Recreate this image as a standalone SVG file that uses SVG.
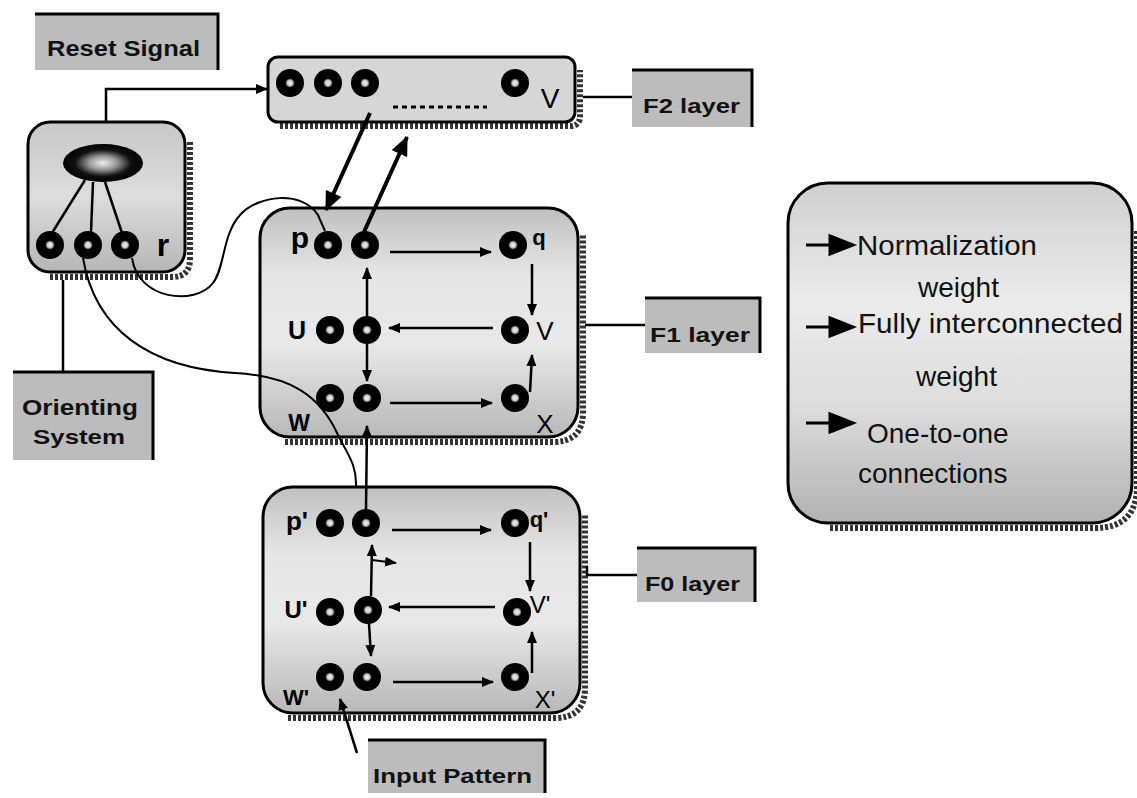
<svg xmlns="http://www.w3.org/2000/svg" xmlns:xlink="http://www.w3.org/1999/xlink" width="1137" height="798" viewBox="0 0 1137 798">
<style>
.lbl{fill:#bcbcbc;}
.lblEdge{fill:none;stroke:#000;stroke-width:3;}
.lt{font-family:"Liberation Sans",Arial,sans-serif;font-weight:bold;fill:#111;}
.box{stroke:#000;stroke-width:3;}
.shadow{fill:none;stroke:#333;stroke-width:6;stroke-dasharray:3 2;}
.con{fill:none;stroke:#000;stroke-width:2.5;}
.thin{fill:none;stroke:#000;stroke-width:2;}
.thick{fill:none;stroke:#000;stroke-width:4;}
.nl{font-family:"Liberation Sans",Arial,sans-serif;fill:#000;text-anchor:middle;}
.b{font-weight:bold;}
.leg{font-family:"Liberation Sans",Arial,sans-serif;font-size:28px;fill:#111;}
.legArrow{fill:#000;stroke:#000;stroke-width:3;}
</style>
<defs>
<marker id="ah" viewBox="0 0 12 10" refX="11" refY="5" markerWidth="12" markerHeight="10" markerUnits="userSpaceOnUse" orient="auto"><path d="M0,0 L12,5 L0,10 z" fill="#000"/></marker>
<marker id="ahL" viewBox="0 0 16 14" refX="15" refY="7" markerWidth="20" markerHeight="17" markerUnits="userSpaceOnUse" orient="auto"><path d="M0,0 L16,7 L0,14 z" fill="#000"/></marker>
<radialGradient id="dot" cx="0.5" cy="0.5" r="0.5"><stop offset="0" stop-color="#f4f4f4"/><stop offset="0.2" stop-color="#c8c8c8"/><stop offset="0.34" stop-color="#000"/><stop offset="1" stop-color="#000"/></radialGradient>
<radialGradient id="ell" cx="0.5" cy="0.5" r="0.5"><stop offset="0" stop-color="#eee"/><stop offset="0.35" stop-color="#999"/><stop offset="0.7" stop-color="#111"/><stop offset="1" stop-color="#000"/></radialGradient>
<linearGradient id="gF" x1="0" y1="0" x2="0" y2="1"><stop offset="0" stop-color="#c0c0c0"/><stop offset="0.3" stop-color="#e6e6e6"/><stop offset="0.6" stop-color="#e8e8e8"/><stop offset="1" stop-color="#b8b8b8"/></linearGradient>
<linearGradient id="gL" x1="0" y1="0" x2="0" y2="1"><stop offset="0" stop-color="#cfcfcf"/><stop offset="0.35" stop-color="#ebebeb"/><stop offset="0.65" stop-color="#dddddd"/><stop offset="1" stop-color="#b2b2b2"/></linearGradient>
<linearGradient id="gO" x1="0" y1="0" x2="0" y2="1"><stop offset="0" stop-color="#c8c8c8"/><stop offset="0.5" stop-color="#dcdcdc"/><stop offset="1" stop-color="#b6b6b6"/></linearGradient>
<circle id="nd" r="14" fill="url(#dot)"/>
<path id="legA" class="legArrow" d="M0,0 H24 M24,-9 L47,0 L24,9 Z"/>
</defs>
<rect width="1137" height="798" fill="#fff"/>

<!-- Reset Signal label -->
<g id="reset-signal">
<rect class="lbl" x="35" y="14" width="183" height="56"/>
<path class="lblEdge" d="M35,14 H218 V70"/>
<text class="lt" x="47" y="56" font-size="22" textLength="153" lengthAdjust="spacingAndGlyphs">Reset Signal</text>
</g>

<!-- Orienting subsystem box -->
<g id="orienting">
<path class="shadow" d="M50,277 H172 Q190,277 190,259 V140"/>
<rect class="box" x="28" y="122" width="157" height="150" rx="22" fill="url(#gO)"/>
<line class="con" x1="85" y1="180" x2="52" y2="233"/>
<line class="con" x1="93" y1="182" x2="91" y2="232"/>
<line class="con" x1="105" y1="182" x2="122" y2="233"/>
<ellipse cx="103" cy="163" rx="40" ry="19" fill="url(#ell)"/>
<use href="#nd" x="50" y="245"/>
<use href="#nd" x="88" y="245"/>
<use href="#nd" x="125" y="245"/>
<text class="nl b" x="163" y="256" font-size="32">r</text>
</g>

<!-- Orienting System label -->
<g id="orienting-system">
<rect class="lbl" x="13" y="372" width="140" height="88"/>
<path class="lblEdge" d="M13,372 H153 V460"/>
<text class="lt" x="22" y="415" font-size="22" textLength="116" lengthAdjust="spacingAndGlyphs">Orienting</text>
<text class="lt" x="33" y="444" font-size="21" textLength="92" lengthAdjust="spacingAndGlyphs">System</text>
</g>

<!-- F2 layer -->
<g id="f2">
<path class="shadow" d="M280,126 H570 Q580,126 580,116 V70"/>
<rect class="box" x="268" y="57" width="307" height="65" rx="10" fill="#d6d6d6"/>
<use href="#nd" x="290" y="83"/>
<use href="#nd" x="328" y="83"/>
<use href="#nd" x="365" y="83"/>
<use href="#nd" x="515" y="83"/>
<line x1="393" y1="107" x2="487" y2="107" stroke="#000" stroke-width="3" stroke-dasharray="5 4"/>
<text class="nl" x="550" y="108" font-size="28">V</text>
</g>
<g id="f2-label">
<rect class="lbl" x="632" y="70" width="120" height="57"/>
<path class="lblEdge" d="M632,70 H752 V127"/>
<text class="lt" x="643" y="113" font-size="21" textLength="97" lengthAdjust="spacingAndGlyphs">F2 layer</text>
</g>

<!-- F1 layer -->
<g id="f1">
<path class="shadow" d="M285,442 H553 Q583,442 583,412 V235"/>
<rect class="box" x="260" y="208" width="318" height="229" rx="30" fill="url(#gF)"/>
<use href="#nd" x="328" y="245"/>
<use href="#nd" x="365" y="245"/>
<use href="#nd" x="513" y="245"/>
<use href="#nd" x="330" y="330"/>
<use href="#nd" x="367" y="330"/>
<use href="#nd" x="515" y="330"/>
<use href="#nd" x="330" y="398"/>
<use href="#nd" x="367" y="398"/>
<use href="#nd" x="515" y="398"/>
<text class="nl b" x="300" y="248" font-size="30">p</text>
<text class="nl b" x="539" y="245" font-size="22">q</text>
<text class="nl b" x="297" y="339" font-size="25">U</text>
<text class="nl" x="545" y="340" font-size="26">V</text>
<text class="nl b" x="299" y="431" font-size="23">W</text>
<text class="nl" x="545" y="433" font-size="26">X</text>
</g>
<g id="f1-label">
<rect class="lbl" x="645" y="298" width="115" height="55"/>
<path class="lblEdge" d="M645,298 H760 V353"/>
<text class="lt" x="650" y="342" font-size="20" textLength="100" lengthAdjust="spacingAndGlyphs">F1 layer</text>
</g>

<!-- F0 layer -->
<g id="f0">
<path class="shadow" d="M288,718 H555 Q585,718 585,688 V515"/>
<rect class="box" x="263" y="487" width="317" height="226" rx="30" fill="url(#gF)"/>
<use href="#nd" x="330" y="523"/>
<use href="#nd" x="366" y="523"/>
<use href="#nd" x="515" y="523"/>
<use href="#nd" x="330" y="612"/>
<use href="#nd" x="368" y="610"/>
<use href="#nd" x="517" y="612"/>
<use href="#nd" x="330" y="677"/>
<use href="#nd" x="367" y="677"/>
<use href="#nd" x="515" y="677"/>
<text class="nl b" x="297" y="530" font-size="26">p'</text>
<text class="nl b" x="539" y="527" font-size="22">q'</text>
<text class="nl b" x="296" y="618" font-size="24">U'</text>
<text class="nl" x="540" y="613" font-size="24">V'</text>
<text class="nl b" x="296" y="705" font-size="22">W'</text>
<text class="nl" x="545" y="708" font-size="24">X'</text>
</g>
<g id="f0-label">
<rect class="lbl" x="637" y="548" width="118" height="54"/>
<path class="lblEdge" d="M637,548 H755 V602"/>
<text class="lt" x="645" y="591" font-size="20" textLength="95" lengthAdjust="spacingAndGlyphs">F0 layer</text>
</g>

<!-- Input Pattern label -->
<g id="input-pattern">
<rect class="lbl" x="368" y="740" width="177" height="53"/>
<path class="lblEdge" d="M368,740 H545 V793"/>
<text class="lt" x="373" y="783" font-size="21" textLength="159" lengthAdjust="spacingAndGlyphs">Input Pattern</text>
</g>

<!-- Legend -->
<g id="legend">
<path class="shadow" d="M830,528 H1095 Q1137,528 1137,486 V230"/>
<rect class="box" x="788" y="183" width="344" height="340" rx="40" fill="url(#gL)"/>
<use href="#legA" x="806" y="245"/>
<use href="#legA" x="806" y="327"/>
<use href="#legA" x="806" y="423"/>
<text class="leg" x="857" y="255" textLength="180" lengthAdjust="spacingAndGlyphs">Normalization</text>
<text class="leg" x="918" y="297">weight</text>
<text class="leg" x="858" y="333" textLength="265" lengthAdjust="spacingAndGlyphs">Fully interconnected</text>
<text class="leg" x="916" y="386">weight</text>
<text class="leg" x="867" y="443">One-to-one</text>
<text class="leg" x="858" y="483">connections</text>
</g>

<!-- Connectors -->
<g id="connectors">
<path class="con" d="M106,122 V89 H267" marker-end="url(#ah)"/>
<line class="con" x1="583" y1="97" x2="632" y2="97"/>
<line class="con" x1="585" y1="325" x2="645" y2="325"/>
<path class="con" d="M587,566 V575 H637"/>
<line class="con" x1="63" y1="280" x2="63" y2="372"/>
<line class="thick" x1="370" y1="113" x2="326" y2="210" marker-end="url(#ahL)"/>
<line class="thick" x1="364" y1="232" x2="407" y2="137" marker-end="url(#ahL)"/>
<path class="thin" d="M132,258 C138,300 195,306 213,283 C225,268 222,235 240,215 C258,195 302,190 318,215 L325,231"/>
<path class="thin" d="M83,258 C95,330 150,368 235,373 C290,376 320,395 338,435 C348,455 357,465 356,487"/>
<line class="con" x1="366" y1="509" x2="367" y2="426" marker-end="url(#ah)"/>
<!-- F1 internal -->
<line class="con" x1="390" y1="252" x2="491" y2="252" marker-end="url(#ah)"/>
<line class="con" x1="532" y1="264" x2="532" y2="315" marker-end="url(#ah)"/>
<line class="con" x1="493" y1="328" x2="389" y2="328" marker-end="url(#ah)"/>
<line class="con" x1="367" y1="316" x2="367" y2="268" marker-end="url(#ah)"/>
<line class="con" x1="367" y1="344" x2="367" y2="381" marker-end="url(#ah)"/>
<line class="con" x1="530" y1="392" x2="532" y2="355" marker-end="url(#ah)"/>
<line class="con" x1="390" y1="403" x2="492" y2="403" marker-end="url(#ah)"/>
<!-- F0 internal -->
<line class="con" x1="392" y1="530" x2="491" y2="530" marker-end="url(#ah)"/>
<line class="con" x1="530" y1="542" x2="530" y2="591" marker-end="url(#ah)"/>
<line class="con" x1="495" y1="607" x2="389" y2="607" marker-end="url(#ah)"/>
<line class="con" x1="371" y1="596" x2="372" y2="545" marker-end="url(#ah)"/>
<line class="thin" x1="372" y1="560" x2="396" y2="563" marker-end="url(#ah)"/>
<line class="con" x1="369" y1="624" x2="371" y2="656" marker-end="url(#ah)"/>
<line class="con" x1="532" y1="673" x2="532" y2="632" marker-end="url(#ah)"/>
<line class="con" x1="393" y1="682" x2="493" y2="682" marker-end="url(#ah)"/>
<line class="con" x1="357" y1="753" x2="340" y2="699" marker-end="url(#ah)"/>
</g>
</svg>
